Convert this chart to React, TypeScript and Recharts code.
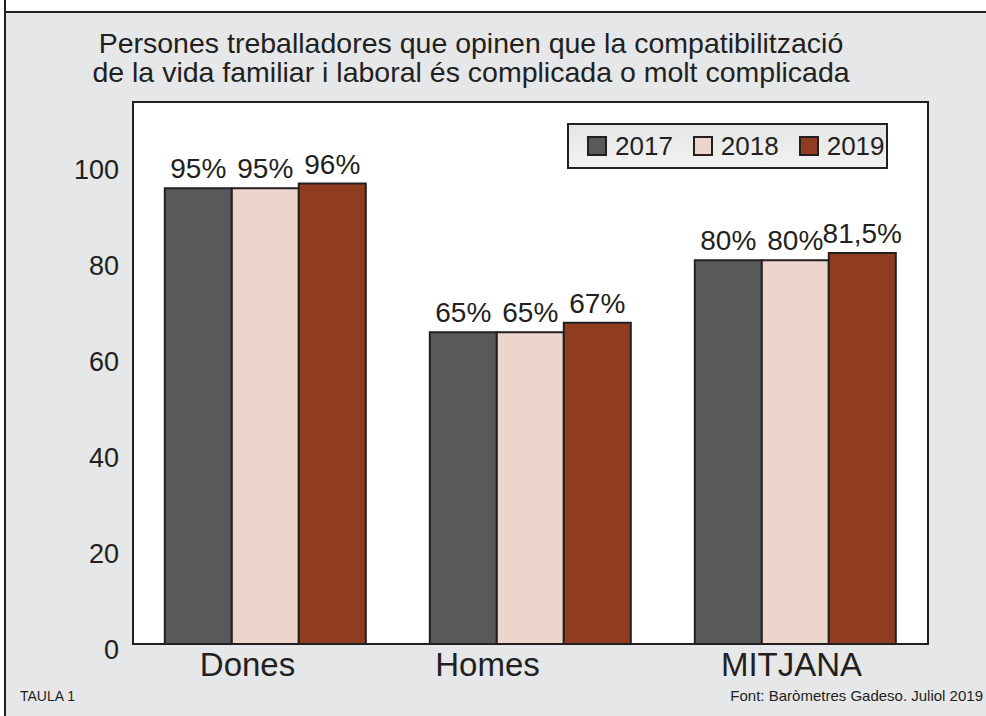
import { BarChart, Bar, XAxis, YAxis, CartesianGrid, LabelList, Legend } from "recharts"

const categories = ["Dones", "Homes", "MITJANA"]
const years = ["2017", "2018", "2019"]
const values2017 = [95, 65, 80]
const values2018 = [95, 65, 80]
const values2019 = [96, 67, 81.5]
const yTicks = [0, 20, 40, 60, 80, 100]

const COLORS = ["#58595b", "#ecd6cc", "#8f3c20"]
const INK = "#231f20"
const FONT = '"Liberation Sans", Arial, sans-serif'
// category labels in the original sit a bit left of their bar groups
const LABEL_SHIFT = [-18, -43, -4]

const data = categories.map((name, i) => ({
  name,
  y2017: values2017[i],
  y2018: values2018[i],
  y2019: values2019[i],
}))

const fmt = (v: number) => `${String(v).replace(".", ",")}%`

function LegendBox() {
  return (
    <div
      style={{
        width: 299,
        height: 42,
        border: `2px solid ${INK}`,
        background: "linear-gradient(#e4e5e6, #f2f2f2)",
        display: "flex",
        alignItems: "center",
        paddingLeft: 18,
        boxSizing: "content-box",
      }}
    >
      {years.map((y, i) => (
        <div key={y} style={{ display: "flex", alignItems: "center", marginRight: 20 }}>
          <div
            style={{
              width: 16,
              height: 16,
              background: COLORS[i],
              border: `2px solid ${INK}`,
              marginRight: 8,
            }}
          />
          <span style={{ fontFamily: FONT, fontSize: 26, color: INK }}>{y}</span>
        </div>
      ))}
    </div>
  )
}

function CategoryTick(props: any) {
  const { x, y, payload, index } = props
  return (
    <text x={x + (LABEL_SHIFT[index] ?? 0)} y={y + 24} textAnchor="middle" fill={INK} fontSize={33} fontFamily={FONT}>
      {payload.value}
    </text>
  )
}

export default function App() {
  return (
    <div
      style={{
        position: "fixed",
        left: 0,
        top: 0,
        width: 986,
        height: 716,
        overflow: "hidden",
        background: "#e6e7e8",
        fontFamily: FONT,
      }}
    >
      <div
        style={{
          position: "absolute",
          left: 0,
          top: 0,
          width: 986,
          height: 11,
          background: "#fff",
          borderBottom: `2px solid ${INK}`,
        }}
      />
      <div
        style={{
          position: "absolute",
          left: 0,
          top: 0,
          width: 4,
          height: 716,
          background: "#fff",
          borderRight: `2px solid ${INK}`,
        }}
      />
      <div
        style={{
          position: "absolute",
          left: 0,
          width: 942,
          top: 29,
          textAlign: "center",
          fontSize: 28.5,
          lineHeight: "29px",
          color: INK,
        }}
      >
        Persones treballadores que opinen que la compatibilització
        <br />
        de la vida familiar i laboral és complicada o molt complicada
      </div>
      <div style={{ position: "absolute", left: 20, top: 688, fontSize: 14, color: INK }}>TAULA 1</div>
      <div style={{ position: "absolute", right: 3, top: 687, fontSize: 15, color: INK }}>
        Font: Baròmetres Gadeso. Juliol 2019
      </div>
      <div style={{ position: "absolute", left: 0, top: 0 }}>
        <BarChart
          width={986}
          height={716}
          data={data}
          margin={{ top: 102, right: 58, bottom: 32, left: 73 }}
          barGap={0}
          barCategoryGap="12%"
        >
          <CartesianGrid fill="#fff" horizontal={false} vertical={false} />
          <XAxis
            dataKey="name"
            axisLine={{ stroke: INK, strokeWidth: 2 }}
            tickLine={false}
            height={40}
            tick={<CategoryTick />}
          />
          <YAxis
            domain={[0, 113]}
            ticks={yTicks}
            axisLine={{ stroke: INK, strokeWidth: 2 }}
            tickLine={false}
            tickMargin={8}
            width={60}
            tick={{ fill: INK, fontSize: 27, fontFamily: FONT, dy: 5 }}
          />
          <Legend
            layout="horizontal"
            verticalAlign="middle"
            content={() => <LegendBox />}
            wrapperStyle={{ position: "absolute", top: 123, left: 567, width: 330 }}
          />
          {["y2017", "y2018", "y2019"].map((k, i) => (
            <Bar key={k} dataKey={k} fill={COLORS[i]} stroke={INK} strokeWidth={2} isAnimationActive={false}>
              <LabelList
                dataKey={k}
                position="top"
                offset={10}
                formatter={(v: number) => fmt(v)}
                style={{ fill: INK, fontSize: 28, fontFamily: FONT }}
              />
            </Bar>
          ))}
        </BarChart>
      </div>
      {/* plot frame */}
      <div
        style={{
          position: "absolute",
          left: 132,
          top: 101,
          width: 797,
          height: 544,
          boxSizing: "border-box",
          border: `2px solid ${INK}`,
          pointerEvents: "none",
        }}
      />
    </div>
  )
}
